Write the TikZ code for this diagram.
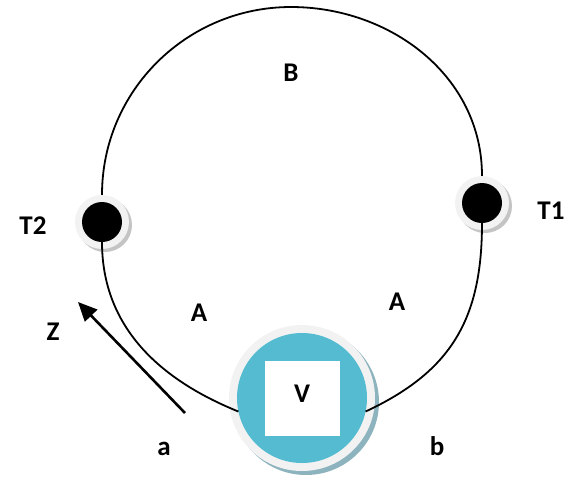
\documentclass[tikz,border=0pt]{standalone}
\usepackage{fontspec}
\setmainfont{Carlito}
\usetikzlibrary{shadows,calc,arrows.meta}
\definecolor{halo}{HTML}{F2F2F2}
\definecolor{tshade}{HTML}{C4C4C4}
\definecolor{vshade}{HTML}{8DB4BE}
\definecolor{vblue}{HTML}{55BBD1}
\begin{document}
\begin{tikzpicture}[x=1pt,y=1pt,
  lbl/.style={font=\fontsize{27}{32}\selectfont\bfseries, inner sep=0pt},
  term/.style={circle, minimum size=54pt, inner sep=0pt, fill=halo,
    drop shadow={shadow xshift=3pt, shadow yshift=-3pt, fill=tshade, opacity=1},
    path picture={\fill[black] (path picture bounding box.center) circle (20pt);}},
  valve/.style={circle, minimum size=146pt, inner sep=0pt, fill=halo,
    drop shadow={shadow xshift=4pt, shadow yshift=-4pt, fill=vshade, opacity=1},
    path picture={\fill[vblue] (path picture bounding box.center) circle (65pt);
      \fill[white] ($(path picture bounding box.center)+(-37.5pt,-37.5pt)$) rectangle +(75pt,75pt);}},
  wire/.style={line width=1.8pt, black},
]
\useasboundingbox (0,0) rectangle (567,-483);

% terminals and valve
\node[term] (T2) at (102,-222) {};
\node[term] (T1) at (482,-203) {};
\node[valve] (V) at (302,-398) {};
\node[lbl] (lV) at (302,-394) {V};
\coordinate (top) at (291,-7);

% loop
\draw[wire] (T2.north) to[out=90,in=180] (top) to[out=0,in=90] (T1.north);
\draw[wire] ($(T2.center)+(0,-20)$) to[out=-90,in=158] ($(V.center)+(192:65)$);
\draw[wire] ($(T1.center)+(0,-20)$) to[out=-90,in=25,looseness=1.1] ($(V.center)+(-12:65)$);

% direction arrow
\coordinate (zt) at (185,-413);
\coordinate (zh) at (78,-302);
\draw[line width=2.6pt, -{Triangle[length=19pt,width=17pt]}] (zt) -- (zh);

% labels
\node[lbl] (lB) at (291,-73) {B};
\node[lbl] (lT2) at (33,-226) {T2};
\node[lbl] (lT1) at (551,-211) {T1};
\node[lbl] (lA1) at (199,-313) {A};
\node[lbl] (lA2) at (397,-302) {A};
\node[lbl] (lZ) at (53,-332) {Z};
\node[lbl, anchor=base] (la) at (164,-455) {a};
\node[lbl, anchor=base] (lb) at (437,-455) {b};
\end{tikzpicture}
\end{document}
